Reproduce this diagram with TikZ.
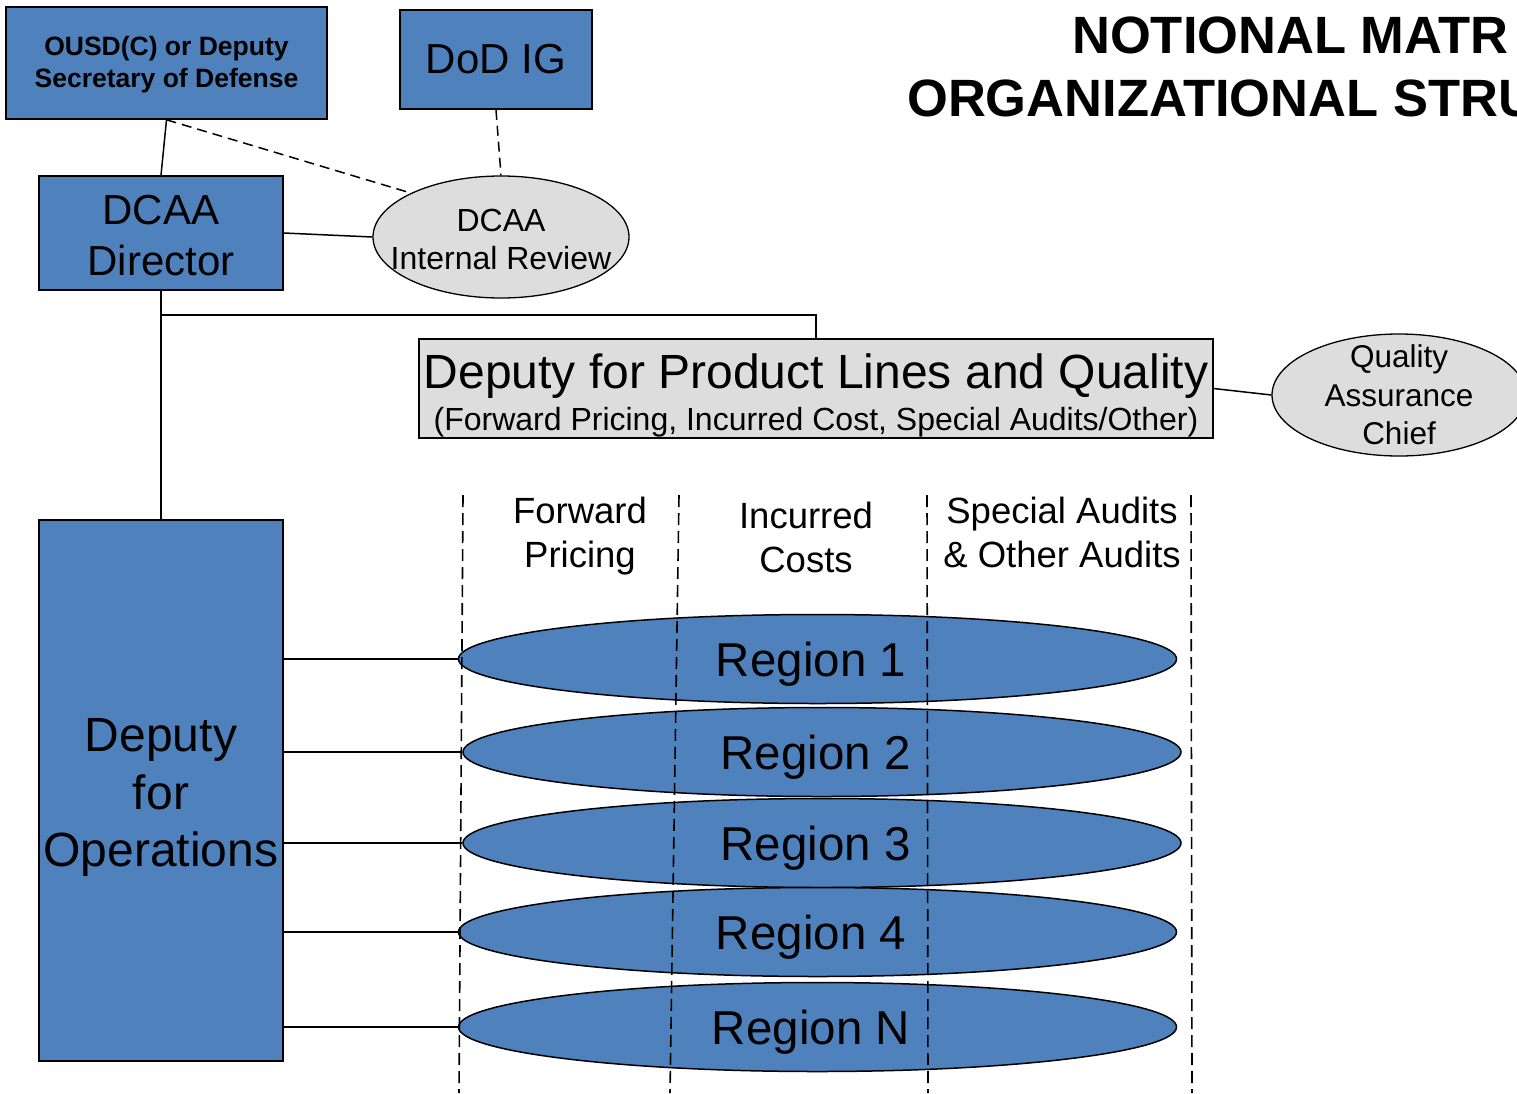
\documentclass[tikz,border=0pt]{standalone}
\usepackage{fontspec}
\setmainfont{Liberation Sans}
\usepackage{tikz}
\usetikzlibrary{shapes.geometric, positioning, calc}
\usepackage{xcolor}
\definecolor{opsblue}{HTML}{4F81BD}
\definecolor{revgrey}{HTML}{DDDDDD}

\begin{document}
\begin{tikzpicture}[x=1pt, y=-1pt,
    bluebox/.style={draw=black, line width=1.6pt, fill=opsblue, inner sep=0pt, align=center},
    greyoval/.style={ellipse, draw=black, line width=1.3pt, fill=revgrey, inner xsep=-25pt, inner ysep=-20pt, align=center},
    regionoval/.style={ellipse, draw=black, line width=1.5pt, fill=opsblue, inner sep=0pt, text depth=0pt,
      minimum width=718pt, minimum height=89pt, font=\fontsize{47.5}{50}\selectfont},
    link/.style={line width=1.5pt},
    dottedlink/.style={line width=1.5pt, dash pattern=on 10pt off 6pt},
    colsep/.style={line width=1.6pt, dash pattern=on 12pt off 6pt},
    colhead/.style={inner sep=0pt, align=center, font=\fontsize{36.5}{44}\selectfont}]
      \useasboundingbox (0, 0) rectangle (1517, 1093);
      \clip (0, 0) rectangle (1517, 1093);

      \node[inner sep=0pt, anchor=west, font=\bfseries\fontsize{52.5}{60}\selectfont] (titletop) at (1072, 35) {NOTIONAL MATR};
      \node[inner sep=0pt, anchor=west, font=\bfseries\fontsize{52.5}{60}\selectfont] (titlebottom) at (907, 98) {ORGANIZATIONAL STRU};

      \node[bluebox, minimum width=321pt, minimum height=112pt, font=\bfseries\fontsize{26.5}{32}\selectfont] (ousd) at (166.5, 63) {};
      \node[inner sep=0pt, align=center, font=\bfseries\fontsize{26.5}{32}\selectfont] (ousdtext) at (166.5, 65) {OUSD(C) or Deputy\\Secretary of Defense};
      \node[bluebox, minimum width=192pt, minimum height=99pt, font=\fontsize{42}{50}\selectfont] (dodig) at (496, 59.5) {DoD IG};
      \node[bluebox, minimum width=244pt, minimum height=114pt, font=\fontsize{42}{51}\selectfont] (director) at (161, 233) {};
      \node[inner sep=0pt, align=center, font=\fontsize{42}{51}\selectfont] (directortext) at (161, 236) {DCAA\\Director};
      \node[greyoval, minimum width=256pt, minimum height=122pt, font=\fontsize{32}{38}\selectfont] (review) at (501, 237) {};
      \node[inner sep=0pt, align=center, font=\fontsize{32}{38}\selectfont] (reviewtext) at (501, 239) {DCAA\\Internal Review};

      \node[draw=black, line width=1.3pt, fill=revgrey, minimum width=794pt, minimum height=99pt] (product) at (816, 388.5) {};
      \node[inner sep=0pt, font=\fontsize{48}{50}\selectfont] (productname) at (816, 376) {Deputy for Product Lines and Quality};
      \node[inner sep=0pt, font=\fontsize{32}{34}\selectfont] (productscope) at (816, 422) {(Forward Pricing, Incurred Cost, Special Audits/Other)};
      \node[greyoval, minimum width=254pt, minimum height=122pt, font=\fontsize{31.5}{38.5}\selectfont] (qachief) at (1399, 395) {Quality\\Assurance\\Chief};

      \node[bluebox, minimum width=244pt, minimum height=541pt] (ops) at (161, 790.5) {};
      \node[inner sep=0pt, align=center, font=\fontsize{48}{57.5}\selectfont] (opstext) at (161, 797.5) {Deputy\\for\\Operations};

      \draw[link] (ousd.south) -- (director.north);
      \draw[dottedlink] (ousd.south) -- (review.154);
      \draw[dottedlink] (dodig.south) -- (review.north);
      \draw[link] (director.east) -- (review.west);
      \draw[link] (director.south) -- (ops.north);
      \coordinate (branch) at (161, 315);
      \draw[link] (branch) -| (product.north);
      \draw[link] (product.east) -- (qachief.west);

      \node[colhead] (fwdhead) at (580, 536) {Forward\\Pricing};
      \node[colhead] (inchead) at (806, 537.5) {Incurred\\Costs};
      \node[colhead] (spchead) at (1062, 532) {Special Audits\\\& Other Audits};

      \foreach \n/\lab/\cx/\cy in {1/1/817.5/659, 2/2/822/752, 3/3/822/843, 4/4/817.5/932, 5/N/817.5/1027}
      {
        \node[regionoval] (r\n) at (\cx, \cy) {Region \lab\kern13pt};
        \draw[link] (ops.east |- r\n.west) -- (r\n.west);
      }

      \foreach \xt/\xb in {463/459, 679/670, 927/928, 1191/1192}
        \draw[colsep] (\xt, 495) -- (\xb, 1093);
    \end{tikzpicture}
\end{document}
